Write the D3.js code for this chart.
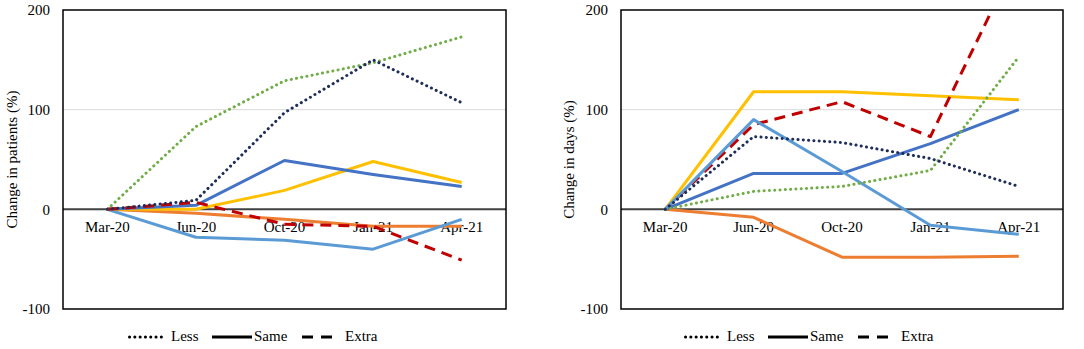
<!DOCTYPE html>
<html>
<head>
<meta charset="utf-8">
<script src="https://cdn.jsdelivr.net/npm/d3@7"></script>
<style>
  body { margin: 0; background: #fff; }
  svg text { font-family: 'Liberation Serif', 'Times New Roman', serif; fill: #000; font-size: 15px; }
</style>
</head>
<body>
<div id="chart"></div>
<script>
const months = ["Mar-20", "Jun-20", "Oct-20", "Jan-21", "Apr-21"];
const yTicks = [-100, 0, 100, 200];

// left panel: change in patients (%)
const patientsLessGreen = [0, 83, 129, 147, 173];
const patientsLessNavy = [0, 9, 97, 150, 107];
const patientsSameBlue = [0, 4, 49, 35, 23];
const patientsSameYellow = [0, 0, 19, 48, 27];
const patientsSameOrange = [0, -4, -10, -17, -17];
const patientsSameLightBlue = [0, -28, -31, -40, -10];
const patientsExtraRed = [0, 7, -15, -17, -51];

// right panel: change in days (%)
const daysLessGreen = [0, 18, 23, 39, 153];
const daysLessNavy = [0, 73, 67, 51, 23];
const daysSameBlue = [0, 36, 36, 66, 100];
const daysSameYellow = [0, 118, 118, 114, 110];
const daysSameOrange = [0, -8, -48, -48, -47];
const daysSameLightBlue = [0, 90, 38, -16, -25];
const daysExtraRed = [0, 85, 108, 73, 255];

const legendItems = ["Less", "Same", "Extra"];

const styles = {
  less: { width: 3, dash: "0.1,5.2", cap: "round" },
  same: { width: 3, dash: null, cap: "butt" },
  extra: { width: 3, dash: "11,7", cap: "butt" }
};

const svg = d3.select("#chart").append("svg")
  .attr("width", 1084)
  .attr("height", 349);

function drawPanel(opts) {
  const left = opts.left, width = opts.width;
  const top = 10, height = 299;

  const g = svg.append("g").attr("transform", `translate(${left},${top})`);

  const x = d3.scaleBand().domain(months).range([0, width]);
  const y = d3.scaleLinear().domain([-100, 200]).range([height, 0]);

  const clipId = "clip-" + opts.id;
  g.append("clipPath").attr("id", clipId)
    .append("rect").attr("width", width).attr("height", height);

  // gridline at 100
  g.append("line")
    .attr("x1", 0).attr("x2", width)
    .attr("y1", y(100)).attr("y2", y(100))
    .attr("stroke", "#d9d9d9").attr("stroke-width", 1);

  // y axis labels (plain hyphen for negatives, like the original)
  const yAxis = g.append("g")
    .call(d3.axisLeft(y).tickValues(yTicks).tickSize(0).tickPadding(13).tickFormat(d => String(d)));
  yAxis.attr("font-family", null).attr("font-size", null);
  yAxis.select(".domain").remove();

  // x axis labels sit just under the zero line
  const xAxis = g.append("g")
    .attr("transform", `translate(0,${y(0)})`)
    .call(d3.axisBottom(x).tickSize(0).tickPadding(12));
  xAxis.attr("font-family", null).attr("font-size", null);
  xAxis.select(".domain").remove();

  // zero line
  g.append("line")
    .attr("x1", 0).attr("x2", width)
    .attr("y1", y(0)).attr("y2", y(0))
    .attr("stroke", "#404040").attr("stroke-width", 2);

  const line = d3.line()
    .x((d, i) => x(months[i]) + x.bandwidth() / 2)
    .y(d => y(d));

  const lines = g.append("g").attr("clip-path", `url(#${clipId})`);
  opts.series.forEach(s => {
    const st = styles[s.type];
    lines.append("path")
      .datum(s.values)
      .attr("d", line)
      .attr("fill", "none")
      .attr("stroke", s.color)
      .attr("stroke-width", st.width)
      .attr("stroke-linecap", st.cap)
      .attr("stroke-linejoin", "round")
      .attr("stroke-dasharray", st.dash);
  });

  // plot border
  g.append("rect")
    .attr("width", width).attr("height", height)
    .attr("fill", "none").attr("stroke", "#000").attr("stroke-width", 1.5);

  // y title
  svg.append("text")
    .attr("transform", `translate(${opts.titleX},${top + height / 2}) rotate(-90)`)
    .attr("text-anchor", "middle")
    .attr("dy", "0.35em")
    .text(opts.title);

  // legend
  const lg = svg.append("g").attr("transform", `translate(${opts.legendX},341)`);
  const sampleX = [0, 84, 174];
  legendItems.forEach((name, i) => {
    const st = styles[name === "Less" ? "less" : name === "Same" ? "same" : "extra"];
    const sx = sampleX[i];
    const len = name === "Same" ? 40 : 36;
    lg.append("line")
      .attr("x1", sx + (st.cap === "round" ? 1.5 : 0)).attr("x2", sx + len)
      .attr("y1", -4).attr("y2", -4)
      .attr("stroke", "#000")
      .attr("stroke-width", st.width)
      .attr("stroke-linecap", st.cap)
      .attr("stroke-dasharray", name === "Extra" ? "11,8" : st.dash);
    lg.append("text")
      .attr("x", sx + len + (name === "Same" ? 2 : 7))
      .attr("y", 0)
      .text(name);
  });
}

drawPanel({
  id: "patients",
  left: 63, width: 443,
  title: "Change in patients (%)",
  titleX: 12,
  legendX: 128,
  series: [
    { values: patientsSameOrange, color: "#ED7D31", type: "same" },
    { values: patientsSameLightBlue, color: "#5B9BD5", type: "same" },
    { values: patientsSameYellow, color: "#FFC000", type: "same" },
    { values: patientsSameBlue, color: "#4472C4", type: "same" },
    { values: patientsExtraRed, color: "#C00000", type: "extra" },
    { values: patientsLessGreen, color: "#70AD47", type: "less" },
    { values: patientsLessNavy, color: "#1F2D5A", type: "less" }
  ]
});

drawPanel({
  id: "days",
  left: 621, width: 442,
  title: "Change in days (%)",
  titleX: 569,
  legendX: 684,
  series: [
    { values: daysSameOrange, color: "#ED7D31", type: "same" },
    { values: daysSameYellow, color: "#FFC000", type: "same" },
    { values: daysSameBlue, color: "#4472C4", type: "same" },
    { values: daysExtraRed, color: "#C00000", type: "extra" },
    { values: daysSameLightBlue, color: "#5B9BD5", type: "same" },
    { values: daysLessGreen, color: "#70AD47", type: "less" },
    { values: daysLessNavy, color: "#1F2D5A", type: "less" }
  ]
});
</script>
</body>
</html>
